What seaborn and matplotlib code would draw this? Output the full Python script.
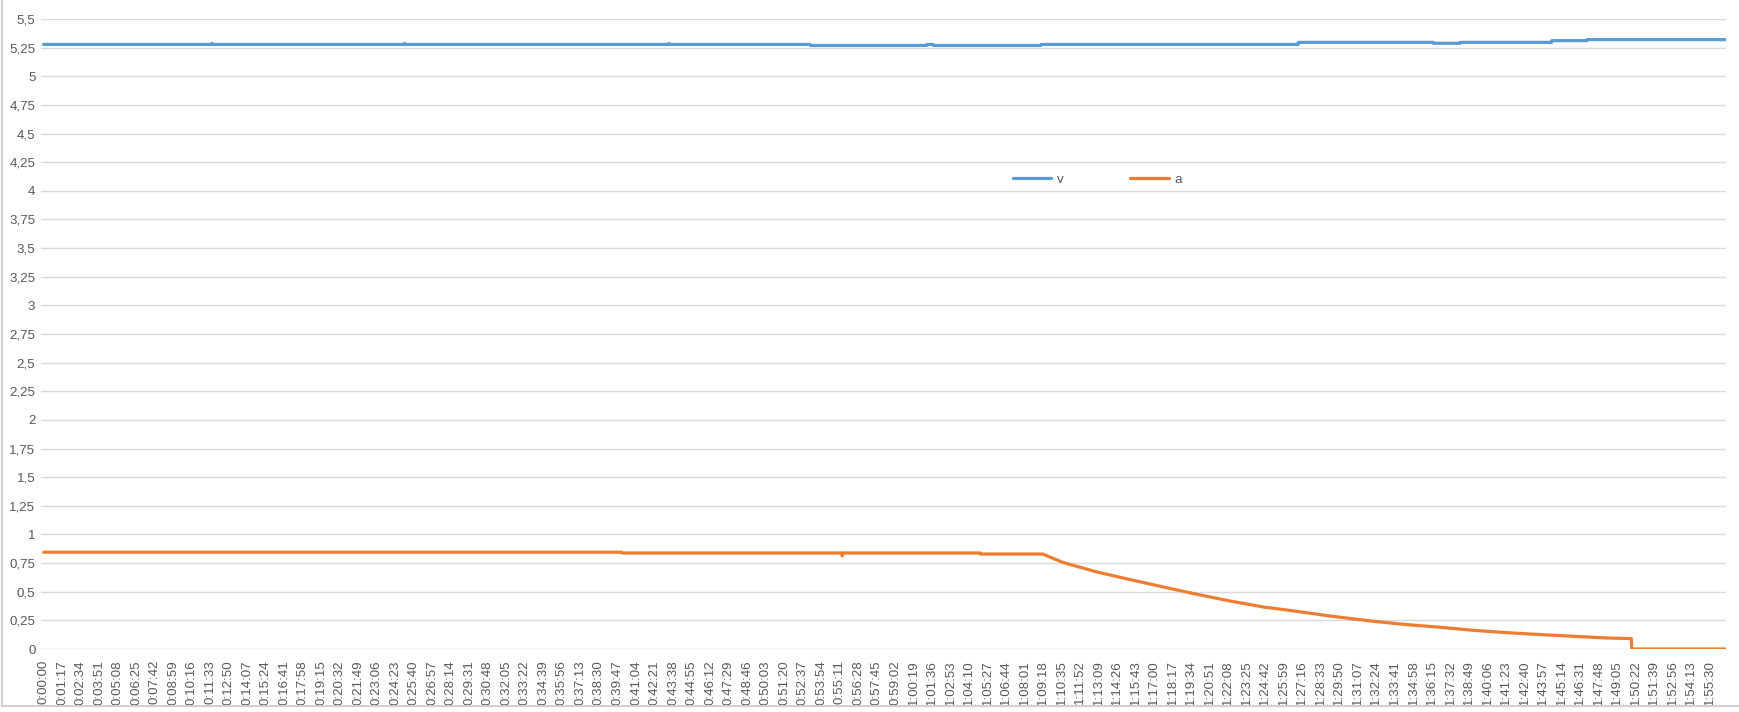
import numpy as np
import pandas as pd
import matplotlib
matplotlib.use("Agg")
import matplotlib.pyplot as plt
from matplotlib.lines import Line2D
import seaborn as sns

# ---- data (time in seconds) ----
v_t = [0, 700, 701, 702, 1500, 1501, 1502, 2600, 2601, 2602, 3189, 3190, 3673, 3674, 3700, 3701,
       4148, 4149, 5218, 5219, 5780, 5781, 5893, 5894, 6272, 6273, 6420, 6421, 6998]
v_v = [5.278, 5.278, 5.288, 5.278, 5.278, 5.287, 5.278, 5.278, 5.287, 5.278, 5.278, 5.269, 5.269, 5.278, 5.278, 5.269,
       5.269, 5.278, 5.278, 5.296, 5.296, 5.288, 5.288, 5.296, 5.296, 5.311, 5.311, 5.320, 5.320]

a_t = [0, 2404, 2405, 3320, 3322, 3324, 3895, 3896, 4156, 4241, 4380, 4519, 4657, 4796, 4935,
       5073, 5212, 5351, 5531, 5670, 5808, 5947, 6086, 6224, 6363, 6502, 6604, 6606, 6998]
a_v = [0.845, 0.845, 0.838, 0.838, 0.812, 0.838, 0.838, 0.829, 0.829, 0.755, 0.673, 0.606, 0.542, 0.478, 0.419,
       0.367, 0.329, 0.288, 0.242, 0.213, 0.190, 0.163, 0.143, 0.126, 0.111, 0.096, 0.091, 0.0, 0.0]

series_names = ["v", "a"]
colors = ["#5B9BD5", "#ED7D31"]
label_step = 77          # seconds between category labels
n_labels = 91
y_ticks = [0, 0.25, 0.5, 0.75, 1, 1.25, 1.5, 1.75, 2, 2.25, 2.5, 2.75, 3, 3.25, 3.5, 3.75,
           4, 4.25, 4.5, 4.75, 5, 5.25, 5.5]

df = pd.concat([
    pd.DataFrame({"t": v_t, "val": v_v, "series": "v"}),
    pd.DataFrame({"t": a_t, "val": a_v, "series": "a"}),
], ignore_index=True)

sns.set_theme(style="white")
plt.rcParams["font.family"] = ["Liberation Sans", "DejaVu Sans"]

fig = plt.figure(figsize=(17.4, 7.12), dpi=100)
ax = fig.add_axes([41 / 1740, 63 / 712, (1726 - 41) / 1740, (649 - 19) / 712])

sns.lineplot(data=df, x="t", y="val", hue="series", hue_order=series_names,
             palette=colors, estimator=None, sort=False, linewidth=2.3, ax=ax,
             legend=False)

ax.set_xlim(-11, 6998)
ax.set_ylim(0, 5.5)

def fmt_time(s):
    return f"{s // 3600}:{(s % 3600) // 60:02d}:{s % 60:02d}"

xt = [k * label_step for k in range(n_labels)]
ax.set_xticks(xt)
ax.set_xticklabels([fmt_time(s) for s in xt], rotation=90, fontsize=9.6, color="#595959")

def fmt_y(v):
    s = f"{v:.2f}".rstrip("0").rstrip(".")
    return s.replace(".", ",")

ax.set_yticks(y_ticks)
ax.set_yticklabels([fmt_y(v) for v in y_ticks], fontsize=9.6, color="#595959")
ax.tick_params(axis="x", length=0, pad=8)
ax.tick_params(axis="y", length=0, pad=4)
ax.yaxis.grid(True, color="#D9D9D9", linewidth=1.0)
ax.xaxis.grid(False)
ax.set_axisbelow(True)
for sp in ax.spines.values():
    sp.set_visible(False)
ax.set_xlabel("")
ax.set_ylabel("")

handles = [Line2D([], [], color=c, linewidth=2.3) for c in colors]
fig.legend(handles, series_names, loc="center", bbox_to_anchor=(1097 / 1740, 1 - 180 / 712),
           ncol=2, frameon=False, fontsize=9.6, handlelength=2.9, handletextpad=0.4,
           columnspacing=5.0, labelcolor="#595959")

# chart-area border (left and bottom)
fig.add_artist(Line2D([0.001, 0.001], [0.008, 1], transform=fig.transFigure, color="#D0D0D0", lw=1.5))
fig.add_artist(Line2D([0.001, 1], [0.008, 0.008], transform=fig.transFigure, color="#D0D0D0", lw=1.5))

fig.savefig("out.png", dpi=100, facecolor="white")
